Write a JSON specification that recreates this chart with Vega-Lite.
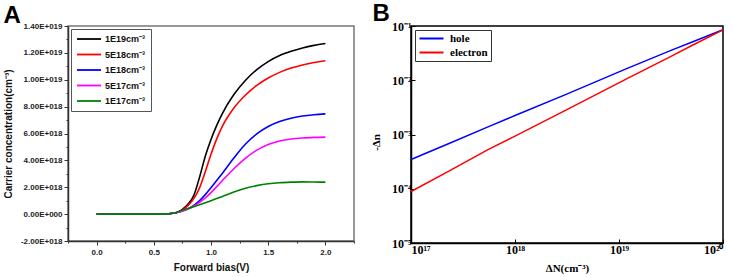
{
  "$schema": "https://vega.github.io/schema/vega-lite/v6.json",
  "padding": {"left": 2, "top": 1, "right": 0, "bottom": 0},
  "spacing": 13,
  "resolve": {"scale": {"color": "independent"}, "legend": {"color": "independent"}},
  "datasets": {
    "a": [
      {"V":0,"c":0,"s":"1E19cm⁻³"},{"V":0.5,"c":0,"s":"1E19cm⁻³"},{"V":0.6,"c":0.02e18,"s":"1E19cm⁻³"},{"V":0.65,"c":0.05e18,"s":"1E19cm⁻³"},{"V":0.7,"c":0.12e18,"s":"1E19cm⁻³"},{"V":0.75,"c":0.35e18,"s":"1E19cm⁻³"},{"V":0.8,"c":0.75e18,"s":"1E19cm⁻³"},{"V":0.85,"c":1.4e18,"s":"1E19cm⁻³"},{"V":0.9,"c":2.75e18,"s":"1E19cm⁻³"},{"V":0.95,"c":4.3e18,"s":"1E19cm⁻³"},{"V":1.0,"c":5.55e18,"s":"1E19cm⁻³"},{"V":1.05,"c":6.6e18,"s":"1E19cm⁻³"},{"V":1.1,"c":7.5e18,"s":"1E19cm⁻³"},{"V":1.2,"c":8.9e18,"s":"1E19cm⁻³"},{"V":1.3,"c":9.95e18,"s":"1E19cm⁻³"},{"V":1.4,"c":10.75e18,"s":"1E19cm⁻³"},{"V":1.5,"c":11.35e18,"s":"1E19cm⁻³"},{"V":1.6,"c":11.8e18,"s":"1E19cm⁻³"},{"V":1.7,"c":12.12e18,"s":"1E19cm⁻³"},{"V":1.8,"c":12.37e18,"s":"1E19cm⁻³"},{"V":1.9,"c":12.56e18,"s":"1E19cm⁻³"},{"V":2.0,"c":12.7e18,"s":"1E19cm⁻³"},

      {"V":0,"c":0,"s":"5E18cm⁻³"},{"V":0.5,"c":0,"s":"5E18cm⁻³"},{"V":0.6,"c":0.02e18,"s":"5E18cm⁻³"},{"V":0.65,"c":0.05e18,"s":"5E18cm⁻³"},{"V":0.7,"c":0.12e18,"s":"5E18cm⁻³"},{"V":0.75,"c":0.3e18,"s":"5E18cm⁻³"},{"V":0.8,"c":0.65e18,"s":"5E18cm⁻³"},{"V":0.85,"c":1.15e18,"s":"5E18cm⁻³"},{"V":0.9,"c":1.95e18,"s":"5E18cm⁻³"},{"V":0.95,"c":3.15e18,"s":"5E18cm⁻³"},{"V":1.0,"c":4.45e18,"s":"5E18cm⁻³"},{"V":1.05,"c":5.6e18,"s":"5E18cm⁻³"},{"V":1.1,"c":6.55e18,"s":"5E18cm⁻³"},{"V":1.2,"c":7.9e18,"s":"5E18cm⁻³"},{"V":1.3,"c":8.85e18,"s":"5E18cm⁻³"},{"V":1.4,"c":9.58e18,"s":"5E18cm⁻³"},{"V":1.5,"c":10.13e18,"s":"5E18cm⁻³"},{"V":1.6,"c":10.55e18,"s":"5E18cm⁻³"},{"V":1.7,"c":10.87e18,"s":"5E18cm⁻³"},{"V":1.8,"c":11.1e18,"s":"5E18cm⁻³"},{"V":1.9,"c":11.28e18,"s":"5E18cm⁻³"},{"V":2.0,"c":11.42e18,"s":"5E18cm⁻³"},

      {"V":0,"c":0,"s":"1E18cm⁻³"},{"V":0.5,"c":0,"s":"1E18cm⁻³"},{"V":0.6,"c":0.02e18,"s":"1E18cm⁻³"},{"V":0.65,"c":0.05e18,"s":"1E18cm⁻³"},{"V":0.7,"c":0.12e18,"s":"1E18cm⁻³"},{"V":0.75,"c":0.25e18,"s":"1E18cm⁻³"},{"V":0.8,"c":0.4e18,"s":"1E18cm⁻³"},{"V":0.85,"c":0.65e18,"s":"1E18cm⁻³"},{"V":0.9,"c":1.0e18,"s":"1E18cm⁻³"},{"V":0.95,"c":1.45e18,"s":"1E18cm⁻³"},{"V":1.0,"c":1.96e18,"s":"1E18cm⁻³"},{"V":1.05,"c":2.5e18,"s":"1E18cm⁻³"},{"V":1.1,"c":3.05e18,"s":"1E18cm⁻³"},{"V":1.2,"c":4.18e18,"s":"1E18cm⁻³"},{"V":1.3,"c":5.2e18,"s":"1E18cm⁻³"},{"V":1.4,"c":5.97e18,"s":"1E18cm⁻³"},{"V":1.5,"c":6.52e18,"s":"1E18cm⁻³"},{"V":1.6,"c":6.89e18,"s":"1E18cm⁻³"},{"V":1.7,"c":7.13e18,"s":"1E18cm⁻³"},{"V":1.8,"c":7.3e18,"s":"1E18cm⁻³"},{"V":1.9,"c":7.4e18,"s":"1E18cm⁻³"},{"V":2.0,"c":7.46e18,"s":"1E18cm⁻³"},

      {"V":0,"c":0,"s":"5E17cm⁻³"},{"V":0.5,"c":0,"s":"5E17cm⁻³"},{"V":0.6,"c":0.02e18,"s":"5E17cm⁻³"},{"V":0.65,"c":0.05e18,"s":"5E17cm⁻³"},{"V":0.7,"c":0.12e18,"s":"5E17cm⁻³"},{"V":0.75,"c":0.22e18,"s":"5E17cm⁻³"},{"V":0.8,"c":0.38e18,"s":"5E17cm⁻³"},{"V":0.85,"c":0.6e18,"s":"5E17cm⁻³"},{"V":0.9,"c":0.88e18,"s":"5E17cm⁻³"},{"V":0.95,"c":1.2e18,"s":"5E17cm⁻³"},{"V":1.0,"c":1.6e18,"s":"5E17cm⁻³"},{"V":1.05,"c":2.05e18,"s":"5E17cm⁻³"},{"V":1.1,"c":2.5e18,"s":"5E17cm⁻³"},{"V":1.2,"c":3.38e18,"s":"5E17cm⁻³"},{"V":1.3,"c":4.15e18,"s":"5E17cm⁻³"},{"V":1.4,"c":4.76e18,"s":"5E17cm⁻³"},{"V":1.5,"c":5.18e18,"s":"5E17cm⁻³"},{"V":1.6,"c":5.44e18,"s":"5E17cm⁻³"},{"V":1.7,"c":5.59e18,"s":"5E17cm⁻³"},{"V":1.8,"c":5.67e18,"s":"5E17cm⁻³"},{"V":1.9,"c":5.71e18,"s":"5E17cm⁻³"},{"V":2.0,"c":5.73e18,"s":"5E17cm⁻³"},

      {"V":0,"c":0,"s":"1E17cm⁻³"},{"V":0.5,"c":0,"s":"1E17cm⁻³"},{"V":0.6,"c":0.02e18,"s":"1E17cm⁻³"},{"V":0.65,"c":0.05e18,"s":"1E17cm⁻³"},{"V":0.7,"c":0.12e18,"s":"1E17cm⁻³"},{"V":0.75,"c":0.28e18,"s":"1E17cm⁻³"},{"V":0.8,"c":0.42e18,"s":"1E17cm⁻³"},{"V":0.85,"c":0.55e18,"s":"1E17cm⁻³"},{"V":0.9,"c":0.69e18,"s":"1E17cm⁻³"},{"V":0.95,"c":0.84e18,"s":"1E17cm⁻³"},{"V":1.0,"c":1.0e18,"s":"1E17cm⁻³"},{"V":1.05,"c":1.16e18,"s":"1E17cm⁻³"},{"V":1.1,"c":1.32e18,"s":"1E17cm⁻³"},{"V":1.2,"c":1.64e18,"s":"1E17cm⁻³"},{"V":1.3,"c":1.92e18,"s":"1E17cm⁻³"},{"V":1.4,"c":2.12e18,"s":"1E17cm⁻³"},{"V":1.5,"c":2.26e18,"s":"1E17cm⁻³"},{"V":1.6,"c":2.34e18,"s":"1E17cm⁻³"},{"V":1.7,"c":2.38e18,"s":"1E17cm⁻³"},{"V":1.8,"c":2.4e18,"s":"1E17cm⁻³"},{"V":1.9,"c":2.39e18,"s":"1E17cm⁻³"},{"V":2.0,"c":2.38e18,"s":"1E17cm⁻³"}
    ],
    "b": [
      {"dN":1e17,"dn":3.47e-4,"k":"hole"},{"dN":2.29e17,"dn":6.76e-4,"k":"hole"},{"dN":5.5e17,"dn":1.38e-3,"k":"hole"},{"dN":1e18,"dn":2.24e-3,"k":"hole"},{"dN":3.02e18,"dn":5.37e-3,"k":"hole"},{"dN":1.17e19,"dn":0.0162,"k":"hole"},{"dN":3.16e19,"dn":0.0355,"k":"hole"},{"dN":5.13e19,"dn":0.0513,"k":"hole"},{"dN":1e20,"dn":0.0851,"k":"hole"},
      {"dN":1e17,"dn":8.9e-5,"k":"electron"},{"dN":2.29e17,"dn":2.09e-4,"k":"electron"},{"dN":5.5e17,"dn":5.25e-4,"k":"electron"},{"dN":1e18,"dn":9.33e-4,"k":"electron"},{"dN":3.02e18,"dn":2.75e-3,"k":"electron"},{"dN":1.17e19,"dn":0.0105,"k":"electron"},{"dN":3.16e19,"dn":0.0275,"k":"electron"},{"dN":5.13e19,"dn":0.0447,"k":"electron"},{"dN":1e20,"dn":0.0851,"k":"electron"}
    ]
  },
  "hconcat": [
    {
      "width": 286,
      "height": 215,
      "view": {"stroke": "#777", "strokeWidth": 1.5},
      "title": {"text": "A", "anchor": "start", "frame": "bounds", "font": "Liberation Sans", "fontWeight": "bold", "fontSize": 24, "offset": -6},
      "data": {"name": "a"},
      "layer": [
        {
          "mark": {"type": "line", "strokeWidth": 1.6, "interpolate": "monotone"},
          "encoding": {
            "x": {"field": "V", "type": "quantitative", "scale": {"domain": [-0.25, 2.25], "nice": false, "zero": false},
              "axis": {"values": [0, 0.5, 1, 1.5, 2], "format": ".1f", "title": "Forward bias(V)", "grid": false, "tickSize": 4, "tickColor": "#333", "domainColor": "#333", "domainWidth": 1.5, "labelFont": "Liberation Sans", "labelFontWeight": "bold", "labelFontSize": 8, "labelColor": "#222", "labelPadding": 3, "titleFont": "Liberation Sans", "titleFontWeight": "bold", "titleFontSize": 10, "titleColor": "#111", "titlePadding": 6}},
            "y": {"field": "c", "type": "quantitative", "scale": {"domain": [-2e18, 1.4e19], "nice": false, "zero": false},
              "axis": {"values": [-2e18, 0, 2e18, 4e18, 6e18, 8e18, 1e19, 1.2e19, 1.4e19], "labelExpr": "datum.value == 0 ? '0.00E+000' : (datum.value < 0 ? '-' : '') + format(abs(datum.value) / pow(10, floor(log(abs(datum.value)) / LN10 + 1e-9)), '.2f') + 'E+0' + floor(log(abs(datum.value)) / LN10 + 1e-9)", "title": "Carrier concentration(cm⁻³)", "grid": false, "tickSize": 4, "tickColor": "#333", "domainColor": "#333", "domainWidth": 1.5, "labelFont": "Liberation Sans", "labelFontWeight": "bold", "labelFontSize": 8, "labelColor": "#222", "labelPadding": 2, "titleFont": "Liberation Sans", "titleFontWeight": "bold", "titleFontSize": 10, "titleColor": "#111", "titlePadding": 7}},
            "color": {"field": "s", "type": "nominal",
              "scale": {"domain": ["1E19cm⁻³", "5E18cm⁻³", "1E18cm⁻³", "5E17cm⁻³", "1E17cm⁻³"], "range": ["#000000", "#ff0000", "#0000ff", "#ff00ff", "#008000"]},
              "legend": {"title": null, "orient": "top-left", "offset": 3, "padding": 5, "strokeColor": "#555", "fillColor": "white", "symbolType": "M-1,0H5", "symbolSize": 64, "symbolStrokeWidth": 1.8, "labelOffset": 19, "rowPadding": 5.5, "labelFont": "Liberation Sans", "labelFontWeight": "bold", "labelFontSize": 9, "labelColor": "#111"}}
          }
        },
        {
          "mark": {"type": "line", "opacity": 0},
          "encoding": {
            "x": {"field": "V", "type": "quantitative", "axis": {"orient": "bottom", "values": [-0.25, 0.25, 0.75, 1.25, 1.75, 2.25], "labels": false, "domain": false, "grid": false, "title": null, "tickSize": 2, "tickColor": "#333"}},
            "y": {"field": "c", "type": "quantitative", "axis": {"orient": "left", "values": [-1e18, 1e18, 3e18, 5e18, 7e18, 9e18, 1.1e19, 1.3e19], "labels": false, "domain": false, "grid": false, "title": null, "tickSize": 2, "tickColor": "#333"}}
          }
        }
      ],
      "resolve": {"axis": {"x": "independent", "y": "independent"}}
    },
    {
      "width": 312,
      "height": 217,
      "view": {"stroke": "#000", "strokeWidth": 1.5},
      "title": {"text": "B", "anchor": "start", "frame": "bounds", "font": "Liberation Sans", "fontWeight": "bold", "fontSize": 24, "offset": -6, "dx": 2},
      "data": {"name": "b"},
      "mark": {"type": "line", "strokeWidth": 1.5},
      "encoding": {
        "x": {"field": "dN", "type": "quantitative", "scale": {"type": "log", "domain": [1e17, 1e20], "nice": false},
          "axis": {"values": [1e17, 1e18, 1e19, 1e20], "labelExpr": "datum.value < 5e17 ? '10¹⁷' : datum.value < 5e18 ? '10¹⁸' : datum.value < 5e19 ? '10¹⁹' : '10²⁰'", "title": "ΔN(cm⁻³)", "grid": false, "tickSize": -4, "tickColor": "#000", "domainColor": "#000", "domainWidth": 1.5, "labelFont": "Liberation Serif", "labelFontWeight": "bold", "labelFontSize": 12, "labelColor": "#000", "labelPadding": 5, "titleFont": "Liberation Serif", "titleFontWeight": "bold", "titleFontSize": 11, "titleColor": "#000", "titlePadding": 7}},
        "y": {"field": "dn", "type": "quantitative", "scale": {"type": "log", "domain": [1e-5, 1e-1], "nice": false},
          "axis": {"values": [1e-5, 1e-4, 1e-3, 1e-2, 1e-1], "labelExpr": "datum.value < 5e-5 ? '10⁻⁵' : datum.value < 5e-4 ? '10⁻⁴' : datum.value < 5e-3 ? '10⁻³' : datum.value < 5e-2 ? '10⁻²' : '10⁻¹'", "title": "-Δn", "grid": false, "tickSize": -4, "tickColor": "#000", "domainColor": "#000", "domainWidth": 1.5, "labelFont": "Liberation Serif", "labelFontWeight": "bold", "labelFontSize": 12, "labelColor": "#000", "labelPadding": 4, "titleFont": "Liberation Serif", "titleFontWeight": "bold", "titleFontSize": 11, "titleColor": "#000", "titlePadding": 10, "titleY": 116}},
        "color": {"field": "k", "type": "nominal", "scale": {"domain": ["hole", "electron"], "range": ["#0000ff", "#ff0000"]},
          "legend": {"title": null, "orient": "top-left", "offset": 4, "padding": 3, "strokeColor": "#333", "fillColor": "white", "symbolType": "M-1,0H5", "symbolSize": 64, "symbolStrokeWidth": 2, "labelOffset": 21, "rowPadding": 2, "labelFont": "Liberation Serif", "labelFontWeight": "bold", "labelFontSize": 11, "labelColor": "#000"}}
      }
    }
  ]
}
